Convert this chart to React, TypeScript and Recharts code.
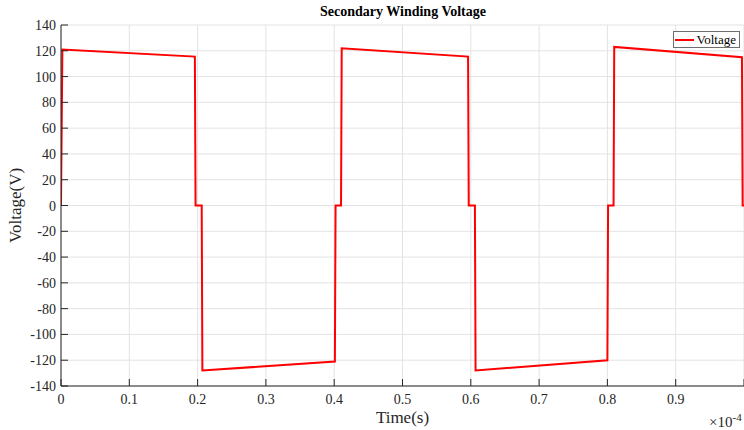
import React from 'react';
import { LineChart, Line, XAxis, YAxis, CartesianGrid, Legend } from 'recharts';

// time in units of 1e-4 s
const timeValues = [
  0, 0.002, 0.196, 0.197, 0.206, 0.207,
  0.401, 0.402, 0.41, 0.411,
  0.596, 0.597, 0.606, 0.607,
  0.8, 0.801, 0.809, 0.81,
  0.997, 0.998, 1.0,
];
const voltageValues = [
  0, 121, 115.5, 0, 0, -128,
  -121, 0, 0, 122,
  115.5, 0, 0, -128,
  -120, 0, 0, 123,
  115, 0, 0,
];
const xTicks = [0, 0.1, 0.2, 0.3, 0.4, 0.5, 0.6, 0.7, 0.8, 0.9, 1];
const yTicks = [-140, -120, -100, -80, -60, -40, -20, 0, 20, 40, 60, 80, 100, 120, 140];

const data = timeValues.map((t, i) => ({ t, v: voltageValues[i] }));

const AXIS = '#262626';
const FONT = '"Liberation Serif", "Times New Roman", serif';
const TICK_LEN = 7;
const tickText = { fontFamily: FONT, fontSize: 14, fill: AXIS };

const LeftTick = (props: any) => {
  const { x, y, payload } = props;
  return (
    <g>
      <line x1={x} y1={y} x2={x + TICK_LEN} y2={y} stroke={AXIS} />
      <text x={x - 5} y={y} dy={5} textAnchor="end" style={tickText}>
        {payload.value}
      </text>
    </g>
  );
};

const RightTick = (props: any) => {
  const { x, y } = props;
  return <line x1={x} y1={y} x2={x - TICK_LEN} y2={y} stroke={AXIS} />;
};

const BottomTick = (props: any) => {
  const { x, y, payload } = props;
  // the label of the last tick sits past the window edge in the original figure
  return (
    <g>
      <line x1={x} y1={y} x2={x} y2={y - TICK_LEN} stroke={AXIS} />
      {payload.value < 1 && (
        <text x={x} y={y + 18} textAnchor="middle" style={tickText}>
          {payload.value}
        </text>
      )}
    </g>
  );
};

const TopTick = (props: any) => {
  const { x, y } = props;
  return <line x1={x} y1={y} x2={x} y2={y + TICK_LEN} stroke={AXIS} />;
};

const LegendBox = () => (
  <div
    style={{
      border: '1px solid #6e6e6e',
      background: '#fff',
      display: 'flex',
      alignItems: 'center',
      padding: '0 3px 0 1px',
      height: 15,
      fontFamily: FONT,
      fontSize: 13,
      color: '#000',
      lineHeight: '15px',
    }}
  >
    <span style={{ display: 'inline-block', width: 19, height: 2, background: '#ff0000', marginRight: 3 }} />
    Voltage
  </div>
);

export default function App() {
  return (
    <div style={{ position: 'absolute', left: 0, top: 0, width: 744, height: 430, background: '#fff' }}>
      <div
        style={{
          position: 'absolute',
          left: 61,
          width: 684,
          top: 4,
          textAlign: 'center',
          fontFamily: FONT,
          fontWeight: 'bold',
          fontSize: 14,
          color: '#000',
        }}
      >
        Secondary Winding Voltage
      </div>
      <LineChart width={744} height={430} data={data} margin={{ top: 25, right: 0, bottom: 0, left: 0 }}>
        <CartesianGrid stroke="#e3e3e3" strokeWidth={1} />
        <XAxis
          dataKey="t"
          type="number"
          domain={[0, 1]}
          ticks={xTicks}
          allowDataOverflow
          height={44}
          axisLine={{ stroke: AXIS }}
          tickLine={false}
          tickSize={0}
          tickMargin={0}
          tick={<BottomTick />}
          interval={0}
          label={{
            content: ({ viewBox }: any) => (
              <text
                x={viewBox.x + viewBox.width / 2}
                y={viewBox.y + 37}
                textAnchor="middle"
                style={{ fontFamily: FONT, fontSize: 17, fill: AXIS }}
              >
                Time(s)
              </text>
            ),
          }}
        />
        <XAxis
          xAxisId="top"
          orientation="top"
          dataKey="t"
          type="number"
          domain={[0, 1]}
          ticks={xTicks}
          allowDataOverflow
          height={0}
          axisLine={{ stroke: AXIS }}
          tickLine={false}
          tickSize={0}
          tickMargin={0}
          tick={<TopTick />}
          interval={0}
        />
        <YAxis
          type="number"
          domain={[-140, 140]}
          ticks={yTicks}
          allowDataOverflow
          width={61}
          axisLine={{ stroke: AXIS }}
          tickLine={false}
          tickSize={0}
          tickMargin={0}
          tick={<LeftTick />}
          interval={0}
          label={{
            content: ({ viewBox }: any) => {
              const cx = viewBox.x + 21;
              const cy = viewBox.y + viewBox.height / 2;
              return (
                <text
                  x={cx}
                  y={cy}
                  transform={`rotate(-90 ${cx} ${cy})`}
                  textAnchor="middle"
                  style={{ fontFamily: FONT, fontSize: 17, fill: AXIS }}
                >
                  Voltage(V)
                </text>
              );
            },
          }}
        />
        <YAxis
          yAxisId="right"
          orientation="right"
          type="number"
          domain={[-140, 140]}
          ticks={yTicks}
          allowDataOverflow
          width={0}
          axisLine={{ stroke: AXIS }}
          tickLine={false}
          tickSize={0}
          tickMargin={0}
          tick={<RightTick />}
          interval={0}
        />
        <Legend
          layout="horizontal"
          verticalAlign="middle"
          align="center"
          wrapperStyle={{ top: 31, right: 4, left: 'auto', bottom: 'auto', width: 'auto' }}
          content={<LegendBox />}
        />
        <Line
          type="linear"
          dataKey="v"
          name="Voltage"
          stroke="#ff0000"
          strokeWidth={2}
          dot={false}
          activeDot={false}
          isAnimationActive={false}
        />
      </LineChart>
      <div
        style={{
          position: 'absolute',
          left: 709,
          top: 414,
          fontFamily: FONT,
          fontSize: 15,
          color: AXIS,
          whiteSpace: 'nowrap',
        }}
      >
        ×10<sup style={{ fontSize: 11, verticalAlign: 'top', position: 'relative', top: -3 }}>-4</sup>
      </div>
    </div>
  );
}
